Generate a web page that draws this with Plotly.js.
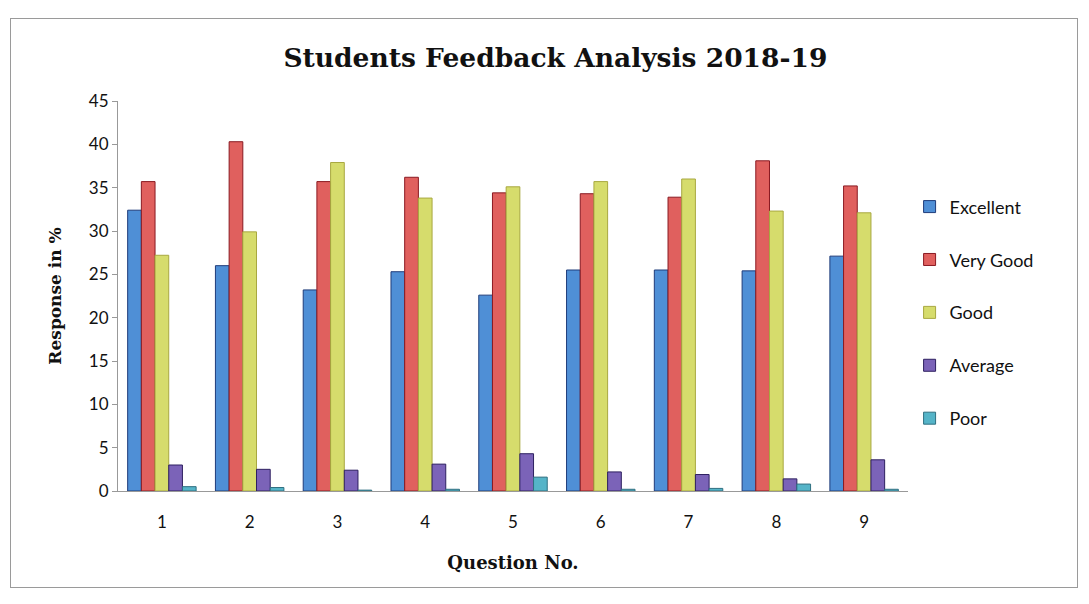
<!DOCTYPE html>
<html>
<head>
<meta charset="utf-8">
<script src="https://cdn.plot.ly/plotly-3.0.1.min.js"></script>
<style>
html,body{margin:0;padding:0;background:#ffffff;}
#frame{position:absolute;left:10px;top:18px;width:1068px;height:570px;border:1px solid #9a9a9a;box-sizing:border-box;}
#chart{position:absolute;left:0;top:0;width:1089px;height:604px;}
</style>
</head>
<body>
<div id="frame"></div>
<div id="chart"></div>
<script>
const questions = ["1","2","3","4","5","6","7","8","9"];
const excellent = [32.4, 26.0, 23.2, 25.3, 22.6, 25.5, 25.5, 25.4, 27.1];
const veryGood  = [35.7, 40.3, 35.7, 36.2, 34.4, 34.3, 33.9, 38.1, 35.2];
const good      = [27.2, 29.9, 37.9, 33.8, 35.1, 35.7, 36.0, 32.3, 32.1];
const average   = [3.0, 2.5, 2.4, 3.1, 4.3, 2.2, 1.9, 1.4, 3.6];
const poor      = [0.5, 0.4, 0.1, 0.2, 1.6, 0.2, 0.3, 0.8, 0.2];
const yTicks    = [0, 5, 10, 15, 20, 25, 30, 35, 40, 45];

const seriesNames = ["Excellent", "Very Good", "Good", "Average", "Poor"];
const seriesData  = [excellent, veryGood, good, average, poor];
const fills   = ["#4f8fd6", "#e0605e", "#d6dc6c", "#7b63b8", "#55b4c8"];
const borders = ["#1f3c7a", "#8a1a22", "#a8a840", "#2e2060", "#2f6f80"];

const traces = seriesNames.map((n, i) => ({
  type: "bar",
  name: n,
  x: questions,
  y: seriesData[i],
  legendgroup: n,
  marker: {color: fills[i], line: {color: borders[i], width: 1}}
}));

const layout = {
  width: 1089, height: 604,
  paper_bgcolor: "rgba(0,0,0,0)",
  plot_bgcolor: "rgba(0,0,0,0)",
  margin: {l: 118, r: 181, t: 101, b: 113},
  barmode: "group",
  bargap: 0.22,
  bargroupgap: 0,
  title: {
    text: "<b>Students Feedback Analysis 2018-19</b>",
    font: {family: "DejaVu Serif", size: 26.5, color: "#111"},
    x: 0.51, xanchor: "center", y: 0.905, yanchor: "middle"
  },
  xaxis: {
    type: "category",
    showline: true, linecolor: "#999", linewidth: 1,
    ticks: "", showgrid: false,
    ticklabelstandoff: 16,
    tickfont: {family: "Lato", size: 17, color: "#111"},
    title: {text: "<b>Question No.</b>", font: {family: "DejaVu Serif", size: 18, color: "#111"}, standoff: 24}
  },
  yaxis: {
    range: [0, 45],
    tickvals: yTicks,
    showline: true, linecolor: "#999", linewidth: 1,
    ticks: "outside", ticklen: 5, tickcolor: "#999",
    showgrid: false, zeroline: false,
    tickfont: {family: "Lato", size: 17, color: "#111"},
    title: {text: "<b>Response in %</b>", font: {family: "DejaVu Serif", size: 17, color: "#111"}, standoff: 22}
  },
  legend: {
    x: 1.002, xanchor: "left", y: 0.458, yanchor: "middle",
    traceorder: "grouped", tracegroupgap: 26.5,
    font: {family: "Lato", size: 18, color: "#111"},
    itemwidth: 30
  },
  showlegend: true
};

Plotly.newPlot("chart", traces, layout, {displayModeBar: false, staticPlot: true});
</script>
</body>
</html>
